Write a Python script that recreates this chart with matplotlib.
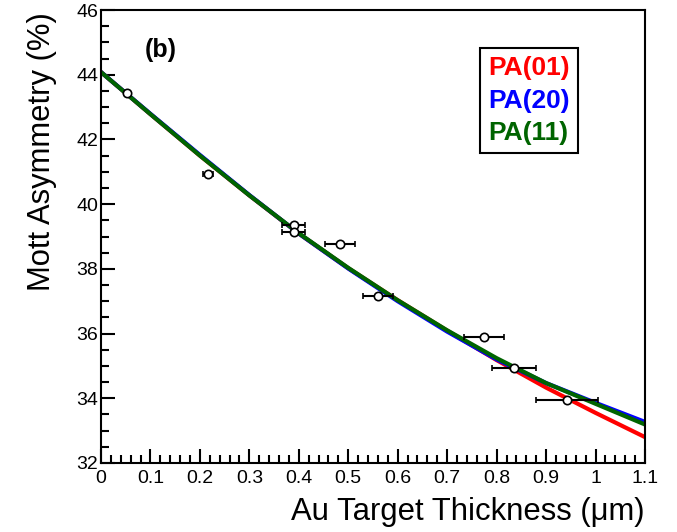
import numpy as np
import matplotlib
matplotlib.use('Agg')
import matplotlib.pyplot as plt
from matplotlib.ticker import MultipleLocator, FuncFormatter

plt.rcParams['font.family'] = ['Liberation Sans', 'DejaVu Sans']

# Measured points (open circles with horizontal error bars)
x_pts = [0.053, 0.216, 0.39, 0.39, 0.483, 0.56, 0.775, 0.835, 0.942]
y_pts = [43.43, 40.93, 39.36, 39.14, 38.77, 37.16, 35.90, 34.94, 33.95]
x_err = [0.0, 0.01, 0.023, 0.023, 0.03, 0.03, 0.04, 0.045, 0.062]

# Fit curves
x_fit = [0.0, 0.1, 0.2, 0.3, 0.4, 0.5, 0.6, 0.7, 0.8, 0.9, 1.0, 1.1]
y_pa01 = [44.08, 42.78, 41.50, 40.27, 39.09, 38.02, 37.03, 36.09, 35.18, 34.33, 33.55, 32.80]
y_pa20 = [44.08, 42.79, 41.52, 40.28, 39.09, 38.01, 37.00, 36.06, 35.20, 34.47, 33.86, 33.27]
y_pa11 = [44.08, 42.78, 41.50, 40.27, 39.10, 38.03, 37.03, 36.10, 35.24, 34.47, 33.83, 33.19]

labels = ['PA(01)', 'PA(20)', 'PA(11)']
colors = ['#ff0000', '#0000ff', '#006400']

fig = plt.figure(figsize=(6.77, 5.32), dpi=100)
ax = fig.add_axes([0.1492, 0.1297, 0.8035, 0.8515])

for yy, lab, col in zip([y_pa01, y_pa20, y_pa11], labels, colors):
    ax.plot(x_fit, yy, '-', color=col, linewidth=3, label=lab)

ax.errorbar(x_pts, y_pts, xerr=x_err, fmt='o', color='k', markerfacecolor='white',
            markeredgecolor='k', markersize=6, markeredgewidth=1.2,
            elinewidth=1.5, capsize=2.5, capthick=1.5, zorder=5)

ax.set_xlim(0, 1.1)
ax.set_ylim(32, 46)
ax.xaxis.set_major_locator(MultipleLocator(0.1))
ax.xaxis.set_minor_locator(MultipleLocator(0.02))
ax.yaxis.set_major_locator(MultipleLocator(2))
ax.yaxis.set_minor_locator(MultipleLocator(0.5))
ax.xaxis.set_major_formatter(FuncFormatter(lambda v, p: f'{v:g}'))

ax.tick_params(which='both', direction='in', top=False, right=False, width=1.5)
ax.tick_params(which='major', length=10, labelsize=14)
ax.tick_params(which='minor', length=5.5)
ax.tick_params(axis='x', pad=5)
ax.tick_params(axis='y', pad=2)
for s in ax.spines.values():
    s.set_linewidth(1.5)

ax.set_xlabel('Au Target Thickness (\u03bcm)', fontsize=22.3, loc='right')
ax.set_ylabel('Mott Asymmetry (%)', fontsize=22.3, loc='top')
ax.xaxis.set_label_coords(1.0, -0.075)
ax.yaxis.set_label_coords(-0.08, 0.995)

ax.text(0.11, 0.912, '(b)', transform=ax.transAxes, fontsize=18,
        fontweight='bold', ha='center', va='center')

leg = ax.legend(loc='upper left', bbox_to_anchor=(0.697, 0.916), borderaxespad=0,
                handlelength=0, handletextpad=0, labelcolor='linecolor',
                fancybox=False, edgecolor='k', framealpha=1,
                prop={'size': 19, 'weight': 'bold'}, labelspacing=0.33,
                borderpad=0.3)
leg.get_frame().set_linewidth(1.5)

fig.savefig('out.png', dpi=100)
